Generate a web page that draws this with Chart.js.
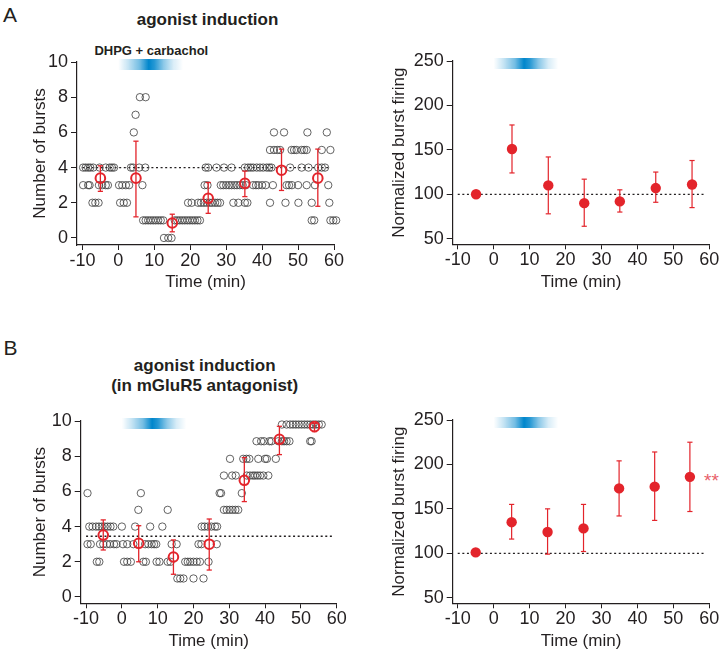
<!DOCTYPE html>
<html><head><meta charset="utf-8">
<script src="https://cdn.jsdelivr.net/npm/chart.js@4/dist/chart.umd.min.js"></script>
<style>
html,body{margin:0;padding:0;background:#fff;}
body{width:724px;height:656px;position:relative;overflow:hidden;font-family:"Liberation Sans",Arial,Helvetica,sans-serif;color:#231f20;}
canvas{position:absolute;}
.t{position:absolute;line-height:1;white-space:nowrap;}
.c{text-align:center;width:300px;}
</style></head><body>
<div class="t" style="left:3px;top:4px;font-size:21px">A</div>
<div class="t" style="left:3.5px;top:337px;font-size:21px">B</div>
<div class="t c" style="left:57.5px;top:11px;font-size:17px;font-weight:bold">agonist induction</div>
<div class="t c" style="left:1.3px;top:44px;font-size:13px;font-weight:bold">DHPG + carbachol</div>
<div class="t c" style="left:54.7px;top:357px;font-size:17px;font-weight:bold">agonist induction</div>
<div class="t c" style="left:54.7px;top:377px;font-size:17px;font-weight:bold">(in mGluR5 antagonist)</div>
<div class="t" style="left:704px;top:471px;font-size:19px;color:#e8606a">**</div>
<canvas id="cA1" style="left:0;top:0"></canvas>
<canvas id="cA2" style="left:360px;top:0"></canvas>
<canvas id="cB1" style="left:0;top:320px"></canvas>
<canvas id="cB2" style="left:360px;top:320px"></canvas>
<script>
// ---------- data ----------
const xTicks = [-10, 0, 10, 20, 30, 40, 50, 60];
const burstTicks = [0, 2, 4, 6, 8, 10];
const normTicks = [50, 100, 150, 200, 250];
const drugWindow = [0, 18];          // DHPG + carbachol application (min)
const baselineSpan = [-10, 59];

// Panel A left: individual bursts per minute, grouped by burst count
const aCellRows = [
  [4, [-9.8, -9.1, -8.4, -7.8, -7, -5.2, -3.5, -2.4, -1.8, -1.2, 3.5, 4.1, 5.8, 7.5, 24.3, 25, 27.3, 29.4, 31.5, 35.2, 36.1, 36.8, 37.5, 38.5, 39.4, 40.3, 41.3, 42, 42.6, 47.8, 51, 52.9, 55.6, 56.6, 57.5]],
  [3, [-9.8, -8.4, -8, -5.4, -4.5, -3.5, -2.9, 0.2, 1.1, 2.1, 3, 6.7, 24, 24.8, 28.5, 29.2, 30, 30.8, 31.5, 32.3, 33, 33.8, 34.6, 35.5, 37.5, 38.3, 39, 40, 41, 43, 46.8, 47.5, 48.3, 50, 52.4, 54.7, 58.4]],
  [2, [-7.2, -6.4, -5.5, 0.5, 1.5, 2.4, 19.4, 20.4, 22.2, 23, 23.8, 24.6, 25.4, 26.1, 26.9, 27.6, 28.3, 32, 33.4, 35.2, 35.9, 42.2, 46.5, 50.1, 53.8, 58.7]],
  [1, [6.9, 7.6, 8.3, 9, 9.7, 10.4, 11.1, 11.8, 12.5, 15.7, 16.4, 17.1, 17.8, 18.5, 19.2, 19.9, 20.6, 21.3, 22, 22.7, 53.8, 54.5, 59, 59.8, 60.6]],
  [0, [12.7, 13.9, 14.8]],
  [5, [42.2, 43.3, 44.2, 45, 48.2, 48.9, 49.6, 51, 51.7, 52.4, 56.6, 59]],
  [6, [4.3, 43.3, 46.1, 52.6, 58]],
  [7, [4.8]],
  [8, [6, 7.6]]
];
const aBinTimes = [-5, 4.9, 15, 25, 35.2, 45.4, 55.5];
const aMean = [3.4, 3.4, 0.85, 2.25, 3.1, 3.85, 3.4];
const aLo = [2.65, 1.2, 0.35, 1.4, 2.35, 2.7, 1.8];
const aHi = [4.1, 5.5, 1.35, 3.15, 3.8, 5.05, 5.05];
const aBaseline = 4;

// Panel A right: normalized burst firing
const aNormTimes = [-4.9, 5.1, 15.2, 25.2, 35.1, 45.1, 55.2];
const aNorm = [100, 151, 110, 90, 92, 107, 111];
const aNormLo = [100, 124, 78, 64, 80, 91, 85];
const aNormHi = [100, 178, 142, 117, 105, 125, 138];

// Panel B left
const bCellRows = [
  [5.9, [-9.6, 5.3, 27.3, 27.7, 33.5]],
  [4.95, [4.6, 12.8, 28.5, 29.3, 30.1, 30.9, 31.7, 32.5]],
  [4, [-9.1, -8.2, -7.2, -6.4, -5.6, -4.8, -4.0, -3.2, -2.4, 0, 3.7, 7.9, 11.3, 22.3, 23.1, 24, 25, 26, 26.6]],
  [3, [-9.6, -8.7, -6.1, -5.2, -4.2, -3.3, -2.2, -1.5, 0.3, 1.5, 3.2, 6.5, 7.4, 8.3, 9.0, 9.6, 13.9, 15.3, 21.4, 22.2, 26.5]],
  [2, [-7, -6.3, 0.6, 1.5, 2.5, 6.0, 6.7, 9.7, 10.5, 12.8, 13.6, 17.7, 18.4, 19.1, 20, 20.9, 21.8, 24.2]],
  [1.05, [15.5, 16.3, 17.2, 20, 22.8]],
  [6.9, [28.5, 30.8, 31.8, 34.9, 35.8, 36.6, 37.2, 37.9, 38.6, 39.5, 40.9]],
  [7.85, [30.2, 33.9, 34.8, 35.6, 38.1, 40, 40.5, 43]],
  [8.85, [37.6, 38.9, 39.7, 41.2, 41.8, 43.7, 44.7, 45.3, 46, 46.8, 52.6, 53]],
  [9.8, [44.7, 46, 47, 47.8, 48.6, 49.4, 50.2, 51, 51.8, 52.6, 53.4, 54.2, 55, 55.8]]
];
const bBinTimes = [-5.2, 4.7, 14.4, 24.4, 34.2, 44, 53.8];
const bMean = [3.52, 3.05, 2.27, 3.0, 6.63, 8.96, 9.68];
const bLo = [2.67, 2.0, 1.29, 1.53, 5.42, 8.09, 9.4];
const bHi = [4.38, 4.05, 3.24, 4.43, 7.92, 9.7, 9.87];
const bBaseline = 3.45;

// Panel B right
const bNormTimes = [-5, 5, 15, 25, 34.9, 44.8, 54.6];
const bNorm = [101, 135, 124, 128, 173, 175, 186];
const bNormLo = [101, 116, 99, 102, 142, 137, 147];
const bNormHi = [101, 155, 150, 155, 204, 214, 225];

// ---------- drawing ----------
const FONT = '"Liberation Sans", Arial, Helvetica, sans-serif';
const INK = '#231f20';
const RED = '#e3242b';

function cellPoints(rows) {
  const pts = [];
  rows.forEach(([n, times]) => times.forEach(t => pts.push({x: t, y: n})));
  return pts;
}
function pointsOf(xs, ys) { return xs.map((x, i) => ({x, y: ys[i]})); }
function errPoints(xs, lo, hi) {
  const d = [];
  xs.forEach((x, i) => { d.push({x, y: lo[i]}, {x, y: hi[i]}, {x, y: null}); });
  return d;
}
function baselineDs(v) {
  return {data: [{x: baselineSpan[0], y: v}, {x: baselineSpan[1], y: v}], showLine: true,
    borderColor: INK, borderWidth: 1.3, borderDash: [2, 2.6], pointRadius: 0, clip: false};
}
function errDs(xs, lo, hi, w) {
  return {data: errPoints(xs, lo, hi), showLine: true, spanGaps: false, borderColor: RED, borderWidth: w,
    pointStyle: 'line', pointRadius: 2.6, pointBorderColor: RED, pointBorderWidth: w, pointBackgroundColor: RED, clip: false};
}

const drugBarPlugin = {
  id: 'drugBar',
  afterDraw(chart) {
    const {ctx, chartArea, scales: {x}} = chart;
    const x0 = x.getPixelForValue(drugWindow[0]), x1 = x.getPixelForValue(drugWindow[1]);
    const y0 = chartArea.top - 3, h = 11;
    const g = ctx.createLinearGradient(x0, 0, x1, 0);
    const stops = [[0, 0], [0.15, 0.22], [0.33, 0.55], [0.47, 1], [0.56, 0.85], [0.7, 0.45], [0.85, 0.15], [1, 0]];
    stops.forEach(([p, a]) => g.addColorStop(p, 'rgba(0,134,204,' + a + ')'));
    ctx.save();
    ctx.fillStyle = g;
    ctx.fillRect(x0, y0, x1 - x0, h);
    ctx.restore();
  }
};

function build(id, o) {
  const cv = document.getElementById(id);
  cv.width = o.w; cv.height = o.h;
  const tickFont = {family: FONT, size: 18};
  const titleFont = {family: FONT, size: 17};
  return new Chart(cv, {
    type: 'scatter',
    data: {datasets: o.datasets},
    options: {
      responsive: false, animation: false, devicePixelRatio: 1,
      layout: {padding: {left: 0, top: o.area.t, right: o.w - o.area.r, bottom: 0}},
      plugins: {legend: {display: false}, tooltip: {enabled: false}},
      scales: {
        x: {
          type: 'linear', position: 'bottom', min: o.xMin, max: 60,
          afterBuildTicks: s => { s.ticks = xTicks.map(v => ({value: v})); },
          afterFit: s => { s.height = o.h - o.area.b; },
          grid: {drawOnChartArea: false, drawTicks: true, tickLength: 5, tickColor: INK, tickWidth: 1},
          border: {display: true, color: INK, width: 1.2},
          ticks: {color: INK, font: tickFont, padding: 0, maxRotation: 0, autoSkip: false},
          title: {display: true, text: 'Time (min)', color: INK, font: titleFont, padding: {top: 0, bottom: o.xTitlePad}}
        },
        y: {
          type: 'linear', position: 'left', min: o.yMin, max: o.yMax,
          afterBuildTicks: s => { s.ticks = o.yTicks.map(v => ({value: v})); },
          afterFit: s => { s.width = o.area.l; },
          grid: {drawOnChartArea: false, drawTicks: true, tickLength: 6, tickColor: INK, tickWidth: 1},
          border: {display: true, color: INK, width: 1.2},
          ticks: {color: INK, font: tickFont, padding: 3, autoSkip: false},
          title: {display: true, text: o.yTitle, color: INK, font: titleFont, padding: {top: o.yTitlePad, bottom: 0}}
        }
      }
    },
    plugins: [drugBarPlugin]
  });
}

const openCells = pts => ({data: pts, pointRadius: 3.7, pointBorderWidth: 0.8, pointBorderColor: '#3c3c3c',
  pointBackgroundColor: 'rgba(0,0,0,0)', clip: false});
const openMeans = pts => ({data: pts, pointRadius: 4.8, pointBorderWidth: 2, pointBorderColor: RED,
  pointBackgroundColor: 'rgba(0,0,0,0)', clip: false});
const filledMeans = pts => ({data: pts, pointRadius: 5.2, pointBorderWidth: 0, pointBorderColor: RED,
  pointBackgroundColor: RED, clip: false});

build('cA1', {w: 360, h: 320, area: {l: 77, t: 62, r: 334, b: 245}, xMin: -11.5, yMin: -0.4, yMax: 10,
  yTicks: burstTicks, yTitle: 'Number of bursts', yTitlePad: 30, xTitlePad: 27,
  datasets: [openMeans(pointsOf(aBinTimes, aMean)), errDs(aBinTimes, aLo, aHi, 1.3),
    openCells(cellPoints(aCellRows)), baselineDs(aBaseline)]});

build('cA2', {w: 364, h: 320, area: {l: 92.7, t: 61, r: 349.3, b: 244.3}, xMin: -11.4, yMin: 43.7, yMax: 250,
  yTicks: normTicks, yTitle: 'Normalized burst firing', yTitlePad: 29, xTitlePad: 27,
  datasets: [filledMeans(pointsOf(aNormTimes, aNorm)), errDs(aNormTimes, aNormLo, aNormHi, 1.2),
    baselineDs(100)]});

build('cB1', {w: 360, h: 336, area: {l: 80.7, t: 101, r: 336.7, b: 283.3}, xMin: -11.5, yMin: -0.36, yMax: 10,
  yTicks: burstTicks, yTitle: 'Number of bursts', yTitlePad: 30, xTitlePad: 4,
  datasets: [openMeans(pointsOf(bBinTimes, bMean)), errDs(bBinTimes, bLo, bHi, 1.3),
    openCells(cellPoints(bCellRows)), baselineDs(bBaseline)]});

build('cB2', {w: 364, h: 336, area: {l: 92.7, t: 100, r: 349.3, b: 283.3}, xMin: -11.4, yMin: 43.7, yMax: 250,
  yTicks: normTicks, yTitle: 'Normalized burst firing', yTitlePad: 29, xTitlePad: 4,
  datasets: [filledMeans(pointsOf(bNormTimes, bNorm)), errDs(bNormTimes, bNormLo, bNormHi, 1.2),
    baselineDs(100)]});
</script>
</body></html>
